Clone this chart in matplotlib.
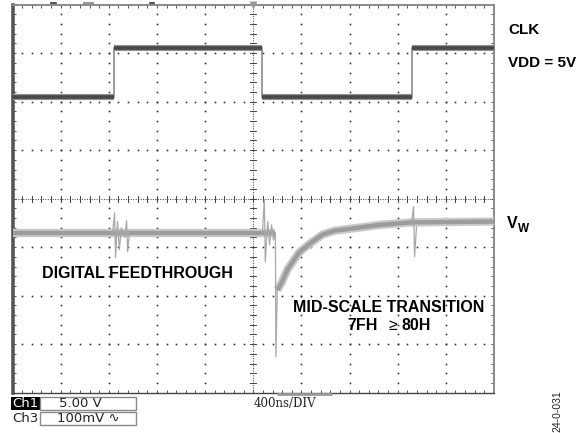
import matplotlib
matplotlib.use("Agg")
import matplotlib.pyplot as plt
import numpy as np
from matplotlib.patches import Rectangle

# ---------------- data (in graticule divisions) ----------------
# CLK (Ch1): transition times and levels between them
clk_t = [0.0, 2.10, 5.19, 8.30, 10.0]
clk_level = [2.10, 3.11, 2.10, 3.11]

# V_W (Ch3) main trace before and after the mid-scale transition
vw_pre_t = [0.0, 5.46]
vw_pre_v = [-0.70, -0.70]
vw_post_t = [5.50, 5.59, 5.71, 5.96, 6.21, 6.44, 6.69, 7.01, 7.63, 8.26, 10.0]
vw_post_v = [-1.88, -1.73, -1.46, -1.10, -0.90, -0.74, -0.66, -0.62, -0.54, -0.49, -0.47]

# glitches (digital feedthrough and transition spike)
ft1_t = [2.08, 2.12, 2.14, 2.18, 2.22, 2.26, 2.33, 2.37, 2.39, 2.43]
ft1_v = [-0.70, -0.29, -1.22, -0.47, -1.05, -0.60, -0.80, -0.45, -1.09, -0.70]
tr_t = [5.19, 5.23, 5.25, 5.30, 5.34, 5.38, 5.42, 5.46, 5.47, 5.50]
tr_v = [-0.70, -0.02, -1.30, -0.47, -0.95, -0.54, -0.85, -0.70, -3.26, -1.88]
ft2_t = [8.28, 8.33, 8.35, 8.39]
ft2_v = [-0.54, -0.16, -1.20, -0.58]

trigger_pos = 5.0
ch1_scale = "5.00 V"
ch3_scale = "100mV \u223f"
timebase = "400ns/DIV"

# ---------------- figure ----------------
W, H = 587, 433
fig = plt.figure(figsize=(W / 100, H / 100), dpi=100)
fig.patch.set_facecolor("white")

L, R, T, B = 12.5, 494.0, 4.7, 392.7
ax = fig.add_axes([L / W, 1 - B / H, (R - L) / W, (B - T) / H])
ax.set_xlim(0, 10)
ax.set_ylim(-4, 4)
ax.set_facecolor("white")

# graticule dots
minor = np.round(np.arange(0, 10.001, 0.2), 3)
minor_y = np.round(np.arange(-4, 4.001, 0.2), 3)
for k in range(1, 10):
    if k == 5:
        continue
    ax.plot(np.full_like(minor_y, k), minor_y, ls="none", marker="s", ms=1.15,
            mec="none", mfc="#2a2a2a", zorder=1)
for j in range(-3, 4):
    if j == 0:
        continue
    ax.plot(minor, np.full_like(minor, j), ls="none", marker="s", ms=1.15,
            mec="none", mfc="#2a2a2a", zorder=1)
# centre lines
ax.axvline(5, color="#555555", lw=0.8, ls=(0, (1, 1.2)), zorder=1)
ax.axhline(0, color="#555555", lw=0.8, ls=(0, (1, 1.2)), zorder=1)
dx, dy = 3 / 48.15, 3 / 48.5
for yy in minor_y:
    ax.plot([5 - dx, 5 + dx], [yy, yy], color="#444444", lw=0.7, zorder=1)
for xx in minor:
    ax.plot([xx, xx], [-dy, dy], color="#444444", lw=0.7, zorder=1)

# borders and ticks
for s in ["top", "right"]:
    ax.spines[s].set_color("#8a8a8a")
    ax.spines[s].set_linewidth(1.4)
ax.spines["left"].set_color("#555555")
ax.spines["left"].set_linewidth(2.6)
ax.spines["bottom"].set_color("#444444")
ax.spines["bottom"].set_linewidth(1.0)
ax.set_xticks(np.arange(0, 10.01, 1))
ax.set_yticks(np.arange(-4, 4.01, 1))
ax.set_xticks(minor, minor=True)
ax.set_yticks(minor_y, minor=True)
ax.tick_params(which="both", direction="in", length=2.5, width=0.7, color="#555555",
               top=True, right=True, labelbottom=False, labelleft=False)

# CLK trace
for i, lev in enumerate(clk_level):
    ax.plot([clk_t[i], clk_t[i + 1]], [lev, lev], color="#8e8e8e", lw=4.4,
            solid_capstyle="butt", zorder=3)
    ax.plot([clk_t[i], clk_t[i + 1]], [lev, lev], color="#484848", lw=2.6,
            solid_capstyle="butt", zorder=4)
for i in range(1, len(clk_level)):
    ax.plot([clk_t[i], clk_t[i]], [clk_level[i - 1], clk_level[i]],
            color="#8a8a8a", lw=1.2, zorder=3)

# V_W trace
for tt, vv in [(vw_pre_t, vw_pre_v), (vw_post_t, vw_post_v)]:
    ax.plot(tt, vv, color="#cacaca", lw=6.0, solid_capstyle="butt", zorder=3)
    ax.plot(tt, vv, color="#9c9c9c", lw=3.2, solid_capstyle="butt", zorder=4)
for tt, vv in [(ft1_t, ft1_v), (tr_t, tr_v), (ft2_t, ft2_v)]:
    ax.plot(tt, vv, color="#a8a8a8", lw=0.9, zorder=5)

# trigger marker
ax.plot(trigger_pos, 4, marker="v", ms=6, color="#9a9a9a", mec="none",
        clip_on=False, zorder=6)

# ---------------- overlay in pixel coordinates ----------------
ov = fig.add_axes([0, 0, 1, 1], zorder=10)
ov.set_xlim(0, W)
ov.set_ylim(H, 0)
ov.axis("off")
ov.patch.set_alpha(0)

bold = dict(family="Liberation Sans", fontweight="bold", color="black")
ov.text(508, 30, "CLK", fontsize=11, ha="left", va="center", **bold)
ov.text(508, 63, "VDD = 5V", fontsize=11, ha="left", va="center", **bold)
ov.text(507, 223, "V", fontsize=11.5, ha="left", va="center", **bold)
ov.text(517.5, 228.5, "W", fontsize=8.5, ha="left", va="center", **bold)
ov.text(137.5, 273, "DIGITAL FEEDTHROUGH", fontsize=11.5, ha="center", va="center", **bold)
ov.text(389, 307, "MID-SCALE TRANSITION", fontsize=11.5, ha="center", va="center", **bold)
ov.text(378, 325, "7FH", fontsize=11.5, ha="right", va="center", **bold)
ov.text(392.5, 325, "\u2265", fontsize=11.5, ha="center", va="center",
        family="Liberation Sans", color="black")
ov.text(401, 325, "80H", fontsize=11.5, ha="left", va="center", **bold)

# top markers
ov.plot([51, 56], [2.5, 2.5], color="#333333", lw=1.2)
ov.plot([84, 93], [2.5, 2.5], color="#999999", lw=1.5)
ov.plot([150, 154], [2.5, 2.5], color="#333333", lw=1.2)
# bottom memory bar
ov.plot([277, 332], [394.3, 394.3], color="#9a9a9a", lw=2.0, solid_capstyle="butt")

# channel boxes
ov.add_patch(Rectangle((11, 397), 29, 12.5, facecolor="black", edgecolor="none"))
ov.add_patch(Rectangle((40, 396.5), 96, 13.5, facecolor="white", edgecolor="#8a8a8a", lw=1.0))
ov.add_patch(Rectangle((40, 412), 96, 13, facecolor="white", edgecolor="#8a8a8a", lw=1.0))
mono = dict(family=["DejaVu Sans", "Noto Sans CJK SC"], fontsize=9.5)
ov.text(25.5, 403.5, "Ch1", color="white", ha="center", va="center", **mono)
ov.text(25.5, 418.5, "Ch3", color="#222222", ha="center", va="center", **mono)
ov.text(80, 403.5, ch1_scale, color="#222222", ha="center", va="center", **mono)
ov.text(88, 418.5, ch3_scale, color="#222222", ha="center", va="center", **mono)
ov.text(285, 404, timebase, color="#222222", ha="center", va="center",
        family="DejaVu Serif", fontsize=8.5)
ov.text(557, 390, "24-0-031", rotation=90, ha="center", va="top", color="#222222",
        family="Liberation Sans", fontsize=7.5)

fig.savefig("out.png", dpi=100, facecolor="white")
